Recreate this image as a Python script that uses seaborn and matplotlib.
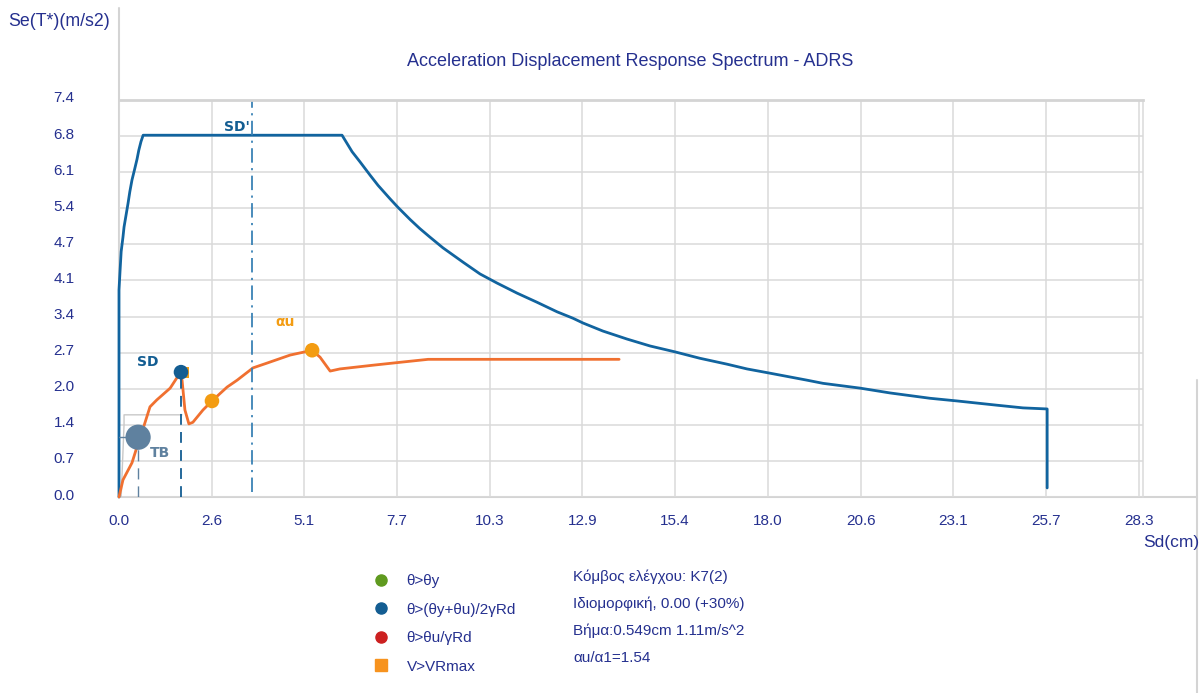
import numpy as np
import pandas as pd
import matplotlib
matplotlib.use("Agg")
import matplotlib.pyplot as plt
import matplotlib.transforms as mtransforms
from matplotlib.lines import Line2D
import seaborn as sns

sns.set_theme(style="white")
plt.rcParams['font.family'] = ['Liberation Sans', 'DejaVu Sans']

# ---------------- data ----------------
demand_sd = [0.0, 0.0, 0.03, 0.06, 0.11, 0.14, 0.19, 0.25, 0.30, 0.36, 0.44, 0.50, 0.55, 0.61, 0.67,
             6.19, 6.47, 6.69, 6.97, 7.19, 7.52, 7.74, 8.08, 8.35, 8.63, 8.99, 9.55, 10.02, 10.49,
             11.05, 11.60, 12.16, 12.60, 12.88, 13.43, 14.10, 14.74, 15.43, 16.12, 16.87, 17.43,
             18.07, 19.09, 19.54, 20.57, 21.40, 22.51, 23.26, 24.37, 25.09, 25.76, 25.76]
demand_sa = [0.0, 3.88, 4.25, 4.60, 4.87, 5.06, 5.26, 5.50, 5.72, 5.94, 6.16, 6.33, 6.50, 6.66, 6.78,
             6.78, 6.47, 6.28, 6.03, 5.84, 5.59, 5.43, 5.20, 5.03, 4.87, 4.67, 4.40, 4.18, 4.01,
             3.82, 3.65, 3.47, 3.35, 3.26, 3.11, 2.96, 2.83, 2.72, 2.60, 2.49, 2.40,
             2.32, 2.19, 2.13, 2.04, 1.95, 1.85, 1.80, 1.72, 1.67, 1.65, 0.17]

capacity_sd = [0.0, 0.11, 0.36, 0.50, 0.64, 0.86, 1.05, 1.42, 1.69, 1.75, 1.83, 1.94, 2.05, 2.33,
               2.58, 3.00, 3.28, 3.72, 4.11, 4.75, 5.16, 5.36, 5.58, 5.86, 6.13, 7.05, 7.88, 8.58, 13.88]
capacity_sa = [0.0, 0.32, 0.64, 0.94, 1.22, 1.69, 1.82, 2.04, 2.32, 2.19, 1.63, 1.37, 1.40, 1.63,
               1.80, 2.06, 2.19, 2.42, 2.51, 2.66, 2.72, 2.75, 2.62, 2.36, 2.40, 2.47, 2.53, 2.58, 2.58]

bilinear_sd = [0.06, 0.14, 0.14, 1.75]
bilinear_sa = [0.0, 1.36, 1.54, 1.54]

orange_pts_sd = [2.58, 5.36]
orange_pts_sa = [1.80, 2.75]
vr_sd, vr_sa = 1.80, 2.34          # V>VRmax marker (partly hidden)
sd_pt_sd, sd_pt_sa = 1.72, 2.34    # SD point
tb_sd, tb_sa = 0.53, 1.12          # TB point
sd_line_x = 3.69                   # SD' vertical line

x_tick_labels = ["0.0", "2.6", "5.1", "7.7", "10.3", "12.9", "15.4", "18.0", "20.6", "23.1", "25.7", "28.3"]
y_tick_labels = ["0.0", "0.7", "1.4", "2.0", "2.7", "3.4", "4.1", "4.7", "5.4", "6.1", "6.8", "7.4"]
x_max_tick, y_max_tick = 28.3, 7.44

legend_labels = ["θ>θy", "θ>(θy+θu)/2γRd", "θ>θu/γRd", "V>VRmax"]
info_lines = ["Κόμβος ελέγχου: K7(2)", "Ιδιομορφική, 0.00 (+30%)", "Βήμα:0.549cm 1.11m/s^2", "αu/α1=1.54"]

# ---------------- styling ----------------
W, H = 1201, 693
NAVY = '#25308f'
BLUE = '#11649f'
DBLUE = '#135d92'
ORANGE = '#f07030'
AMBER = '#f39c12'
TBC = '#5f819f'
GRID = '#dadada'

fig = plt.figure(figsize=(W / 100, H / 100), dpi=100)
fig.patch.set_facecolor('white')
ax = fig.add_axes([119 / W, 1 - 497 / H, (1143 - 119) / W, (497 - 100) / H])
ax.patch.set_facecolor('none')

xt = np.linspace(0, x_max_tick, len(x_tick_labels))
yt = np.linspace(0, y_max_tick, len(y_tick_labels))
ax.set_xlim(0, 28.42)
ax.set_ylim(0, 7.44)
ax.set_xticks(xt)
ax.set_xticklabels(x_tick_labels)
ax.set_yticks(yt)
ax.set_yticklabels(y_tick_labels)
ax.tick_params(axis='x', length=0, pad=12, labelsize=11, labelcolor=NAVY)
ax.tick_params(axis='y', length=0, pad=32, labelsize=11, labelcolor=NAVY)
off = mtransforms.ScaledTranslation(0, 3 / 100, fig.dpi_scale_trans)
for lbl in ax.get_yticklabels():
    lbl.set_transform(lbl.get_transform() + off)
ax.grid(True, color=GRID, lw=1.1)
ax.set_axisbelow(True)
for s in ['left', 'bottom']:
    ax.spines[s].set_visible(False)
ax.spines['top'].set_color('#d4d4d4')
ax.spines['top'].set_linewidth(2.0)
ax.spines['right'].set_color(GRID)
ax.spines['right'].set_linewidth(1.1)

# figure-level axis lines (left axis extends to top, bottom axis extends right), drawn beneath the axes
for xs, ys in [([119, 119], [8, 497]), ([119, 1197], [497, 497]), ([1197, 1197], [380, 693])]:
    fig.add_artist(Line2D([v / W for v in xs], [1 - v / H for v in ys], color='#d4d4d4', lw=1.5, zorder=-1))

# bilinear idealisation (thin grey)
sns.lineplot(x=bilinear_sd, y=bilinear_sa, sort=False, ax=ax, color='#c8c8c8', lw=1.0, estimator=None)

# demand spectrum
sns.lineplot(x=demand_sd, y=demand_sa, sort=False, ax=ax, color=BLUE, lw=2.0, estimator=None)
ax.lines[-1].set_clip_on(False)

# capacity curve
sns.lineplot(x=capacity_sd, y=capacity_sa, sort=False, ax=ax, color=ORANGE, lw=2.0, estimator=None)
ax.lines[-1].set_clip_on(False)

# SD' vertical dash-dot line
ax.plot([sd_line_x, sd_line_x], [0.1, 7.44], color='#3a82b5', lw=1.3, ls=(0, (8, 3, 1.2, 3)))
ax.text(sd_line_x - 0.05, 6.93, "SD'", color=DBLUE, fontsize=10, fontweight='bold',
        ha='right', va='center', family=['DejaVu Sans'])

# SD drop line
ax.plot([sd_pt_sd, sd_pt_sd], [0, sd_pt_sa], color=DBLUE, lw=1.3, ls=(0, (6, 4)))
# TB drop lines
ax.plot([0, tb_sd], [tb_sa, tb_sa], color=TBC, lw=1.0)
ax.plot([tb_sd, tb_sd], [0, tb_sa], color=TBC, lw=1.0, ls=(0, (8, 5)))

# markers
sns.scatterplot(x=[vr_sd], y=[vr_sa], ax=ax, marker='s', s=60, color=AMBER, edgecolor='none', zorder=5)
sns.scatterplot(x=[sd_pt_sd], y=[sd_pt_sa], ax=ax, marker='o', s=110, color=DBLUE, edgecolor='none', zorder=6)
sns.scatterplot(x=orange_pts_sd, y=orange_pts_sa, ax=ax, marker='o', s=110, color=AMBER, edgecolor='none', zorder=6)
sns.scatterplot(x=[tb_sd], y=[tb_sa], ax=ax, marker='o', s=330, color=TBC, edgecolor='none', zorder=6)

ax.text(0.50, 2.53, "SD", color=DBLUE, fontsize=10, fontweight='bold', ha='left', va='center',
        family=['DejaVu Sans'])
ax.text(0.86, 0.82, "TB", color=TBC, fontsize=10, fontweight='bold', ha='left', va='center',
        family=['DejaVu Sans'])
ax.text(4.35, 3.28, "αu", color=AMBER, fontsize=10, fontweight='bold', ha='left', va='center',
        family=['DejaVu Sans'])

ax.set_xlabel("")
ax.set_ylabel("")

# titles and axis labels
fig.text(630 / W, 1 - 61 / H, "Acceleration Displacement Response Spectrum - ADRS",
         ha='center', va='center', fontsize=13, color=NAVY)
fig.text(8 / W, 1 - 22 / H, "Se(T*)(m/s2)", ha='left', va='center', fontsize=12.8, color=NAVY)
fig.text(1143 / W, 1 - 542 / H, "Sd(cm)", ha='left', va='center', fontsize=12.5, color=NAVY)

# legend
handles = [
    Line2D([], [], ls='none', marker='o', markersize=8, color='#5f9a1f'),
    Line2D([], [], ls='none', marker='o', markersize=8, color=DBLUE),
    Line2D([], [], ls='none', marker='o', markersize=8, color='#cc2020'),
    Line2D([], [], ls='none', marker='s', markersize=8, color='#f7931e'),
]
leg = fig.legend(handles, legend_labels, loc='upper left', bbox_to_anchor=(373 / W, 1 - 574 / H),
                 frameon=False, fontsize=11, labelspacing=0.95, handletextpad=1.2, handlelength=1.0,
                 borderaxespad=0, borderpad=0)
for t in leg.get_texts():
    t.set_color(NAVY)

for i, line in enumerate(info_lines):
    fig.text(573 / W, 1 - (577 + i * 27.0) / H, line, ha='left', va='center', fontsize=11, color=NAVY)

fig.savefig("out.png", dpi=100)
